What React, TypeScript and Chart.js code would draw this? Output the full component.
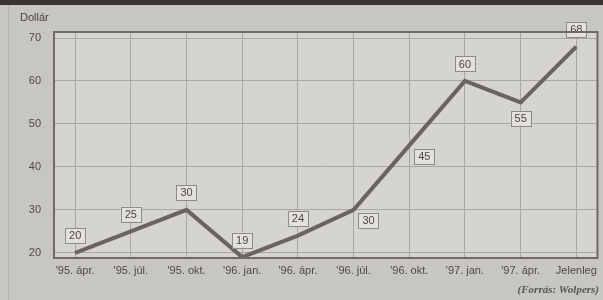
import React, { useEffect, useRef } from "react";
import { Chart, registerables } from "chart.js";

Chart.register(...registerables);

const categories = ["'95. ápr.", "'95. júl.", "'95. okt.", "'96. jan.", "'96. ápr.", "'96. júl.", "'96. okt.", "'97. jan.", "'97. ápr.", "Jelenleg"];
const values = [20, 25, 30, 19, 24, 30, 45, 60, 55, 68];
const yTicks = [20, 30, 40, 50, 60, 70];
const labelPlacement = ["above", "above", "above", "above", "above", "rightBelow", "rightBelow", "above", "below", "above"];

const bgPlugin = {
  id: "bg",
  beforeDraw(chart: any) {
    const { ctx, chartArea: a, width, height } = chart;
    ctx.save();
    ctx.fillStyle = "#c7c6c3";
    ctx.fillRect(0, 0, width, height);
    ctx.fillStyle = "#3b3233";
    ctx.fillRect(0, 0, width, 5);
    ctx.fillStyle = "#d5d4d1";
    ctx.fillRect(a.left, a.top, a.right - a.left, a.bottom - a.top);
    ctx.strokeStyle = "#b3b2af";
    ctx.lineWidth = 1;
    ctx.beginPath();
    ctx.moveTo(8.5, 5);
    ctx.lineTo(8.5, height);
    ctx.stroke();
    ctx.restore();
  },
  afterDraw(chart: any) {
    const { ctx, chartArea: a, width, height } = chart;
    ctx.save();
    ctx.strokeStyle = "#6f6a6a";
    ctx.lineWidth = 2;
    ctx.strokeRect(a.left, a.top, a.right - a.left, a.bottom - a.top);
    ctx.fillStyle = "#4a4444";
    ctx.font = "11px 'Liberation Sans', Arial, sans-serif";
    ctx.textAlign = "left";
    ctx.textBaseline = "middle";
    ctx.fillText("Dollár", 20, 18);
    ctx.font = "italic bold 11px 'Liberation Serif', 'DejaVu Serif', serif";
    ctx.textAlign = "right";
    ctx.fillStyle = "#555";
    ctx.fillText("(Forrás: Wolpers)", width - 4, height - 10);
    ctx.restore();
  },
};

const labelPlugin = {
  id: "pointLabels",
  afterDatasetsDraw(chart: any) {
    const { ctx } = chart;
    const meta = chart.getDatasetMeta(0);
    ctx.save();
    ctx.font = "11px 'Liberation Sans', Arial, sans-serif";
    ctx.textAlign = "center";
    ctx.textBaseline = "middle";
    meta.data.forEach((pt: any, i: number) => {
      const txt = String(values[i]);
      const w = ctx.measureText(txt).width + 8;
      const h = 15;
      let cx = pt.x;
      let cy = pt.y - 17;
      const p = labelPlacement[i];
      if (p === "below") cy = pt.y + 16;
      if (p === "rightBelow") {
        cx = pt.x + 15;
        cy = pt.y + 11;
      }
      ctx.fillStyle = "#e2e1de";
      ctx.fillRect(cx - w / 2, cy - h / 2, w, h);
      ctx.strokeStyle = "#8e8a88";
      ctx.lineWidth = 1;
      ctx.strokeRect(Math.round(cx - w / 2) + 0.5, Math.round(cy - h / 2) + 0.5, Math.round(w), h);
      ctx.fillStyle = "#4d4647";
      ctx.fillText(txt, cx, cy + 0.5);
    });
    ctx.restore();
  },
};

export default function App() {
  const ref = useRef<HTMLCanvasElement>(null);
  useEffect(() => {
    document.body.style.margin = "0";
    const chart = new Chart(ref.current!, {
      type: "line",
      data: {
        datasets: [
          {
            data: values.map((v, i) => ({ x: i, y: v })),
            borderColor: "#6c6263",
            borderWidth: 4,
            pointRadius: 0,
            tension: 0,
          },
        ],
      },
      options: {
        animation: false,
        responsive: false,
        layout: { padding: { top: 32, right: 5, left: 0, bottom: 0 } },
        plugins: { legend: { display: false }, tooltip: { enabled: false } },
        scales: {
          x: {
            type: "linear",
            min: -0.38,
            max: 9.38,
            afterBuildTicks: (s: any) => {
              s.ticks = categories.map((_, i) => ({ value: i }));
            },
            afterFit: (s: any) => {
              s.height = 42;
            },
            ticks: {
              callback: (v: any) => categories[v] ?? "",
              color: "#4f4949",
              font: { size: 11, family: "'Liberation Sans', Arial, sans-serif" },
              padding: 6,
              maxRotation: 0,
              autoSkip: false,
            },
            grid: { color: "#a9a7a5", lineWidth: 1, drawTicks: false },
            border: { display: false },
          },
          y: {
            min: 18.8,
            max: 71.4,
            afterBuildTicks: (s: any) => {
              s.ticks = yTicks.map((v) => ({ value: v }));
            },
            afterFit: (s: any) => {
              s.width = 54;
            },
            ticks: {
              color: "#4f4949",
              font: { size: 11, family: "'Liberation Sans', Arial, sans-serif" },
              padding: 13,
            },
            grid: { color: "#a9a7a5", lineWidth: 1, drawTicks: false },
            border: { display: false },
          },
        },
      },
      plugins: [bgPlugin, labelPlugin],
    });
    return () => chart.destroy();
  }, []);
  return <canvas ref={ref} width={603} height={300} style={{ display: "block" }} />;
}
